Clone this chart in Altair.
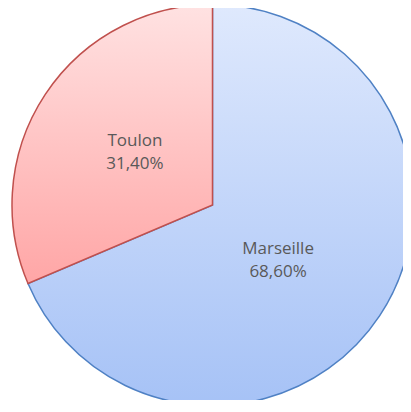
import altair as alt
import pandas as pd

cities = ["Marseille", "Toulon"]
shares = [68.6, 31.4]
labels = ["68,60%", "31,40%"]
order = [1, 2]

df = pd.DataFrame({"city": cities, "share": shares, "pct": labels, "ord": order})

blue_grad = {"gradient": "linear", "x1": 0, "y1": 0, "x2": 0, "y2": 1,
             "stops": [{"offset": 0, "color": "#dfe9fd"}, {"offset": 1, "color": "#a6c2f6"}]}
red_grad = {"gradient": "linear", "x1": 0, "y1": 0, "x2": 0, "y2": 1,
            "stops": [{"offset": 0, "color": "#ffe2e2"}, {"offset": 1, "color": "#ffa6a6"}]}

is_m = alt.datum.city == "Marseille"

base = alt.Chart(df).encode(
    theta=alt.Theta("share:Q", stack=True),
    order=alt.Order("ord:Q", sort="ascending"),
    x=alt.value(204.5),
    y=alt.value(197),
)

pie = base.mark_arc(outerRadius=200.5, strokeWidth=1.5).encode(
    color=alt.condition(is_m, alt.value(blue_grad), alt.value(red_grad)),
    stroke=alt.condition(is_m, alt.value("#4f81c4"), alt.value("#c0504d")),
)


def label_layer(name, dx, dy):
    return base.transform_calculate(
        lab=f"datum.city == '{name}' ? datum.city + '\\n' + datum.pct : ''"
    ).mark_text(
        radius=90, dx=dx, dy=dy, fontSize=17, font="Open Sans", color="#595959",
        lineBreak="\n", lineHeight=23
    ).encode(text="lab:N")


text_m = label_layer("Marseille", -9.5, -5.5)
text_t = label_layer("Toulon", -2.5, -14)

chart = alt.layer(pie, text_m, text_t).properties(
    width=395, height=392, padding=0, autosize=alt.AutoSizeParams(type="none")
).configure_view(stroke=None)

chart.save("out.html", embed_options={"renderer": "svg", "actions": False})
